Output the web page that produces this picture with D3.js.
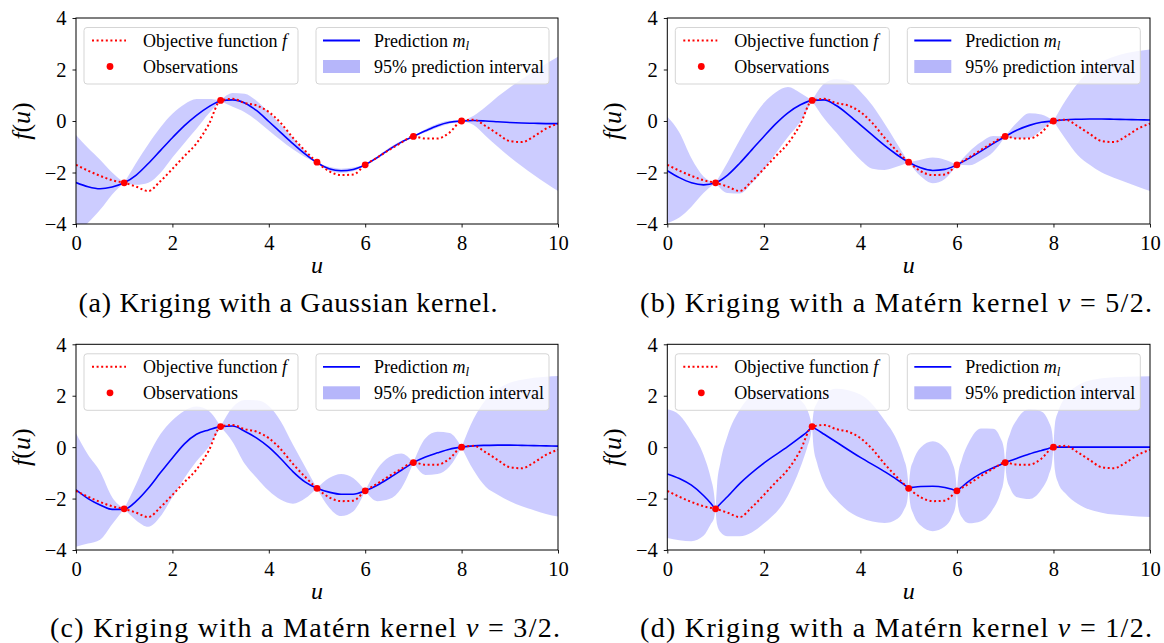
<!DOCTYPE html>
<html><head><meta charset="utf-8">
<script src="https://cdn.jsdelivr.net/npm/d3@7"></script>
<style>
body{margin:0;background:#fff}
svg{display:block}
text{font-family:"Liberation Serif","Times New Roman",serif;fill:#000}
</style>
</head><body>
<svg id="chart" width="1164" height="643"></svg>
<script>
// ---------------- data ----------------
const xTicks = [0, 2, 4, 6, 8, 10];
const yTicks = [-4, -2, 0, 2, 4];

const uGrid = [0,0.25,0.5,0.75,1,1.25,1.5,1.75,2,2.25,2.5,2.75,3,3.25,3.5,3.75,4,4.25,4.5,4.75,5,5.25,5.5,5.75,6,6.25,6.5,6.75,7,7.25,7.5,7.75,8,8.25,8.5,8.75,9,9.25,9.5,9.75,10];

const objective = [-1.70,-1.93,-2.13,-2.30,-2.40,-2.55,-2.72,-2.34,-1.86,-1.36,-0.87,-0.15,0.80,0.86,0.70,0.60,0.35,-0.08,-0.65,-1.15,-1.60,-1.95,-2.10,-2.08,-1.70,-1.42,-1.12,-0.84,-0.60,-0.68,-0.68,-0.45,0.00,0.05,-0.20,-0.50,-0.78,-0.82,-0.60,-0.30,-0.10];

const obsU = [1, 3, 5, 6, 7, 8];
const obsF = [-2.4, 0.8, -1.6, -1.7, -0.6, 0.0];

// (a) Gaussian kernel
const meanA  = [-2.39,-2.55,-2.63,-2.56,-2.40,-2.10,-1.65,-1.15,-0.65,-0.18,0.22,0.55,0.78,0.82,0.70,0.40,-0.02,-0.45,-0.88,-1.28,-1.62,-1.85,-1.93,-1.88,-1.70,-1.42,-1.10,-0.82,-0.60,-0.38,-0.18,-0.05,0.00,0.02,0.00,-0.03,-0.06,-0.08,-0.09,-0.10,-0.10];
const upperA = [-0.54,-1.05,-1.50,-2.00,-2.40,-1.62,-0.90,-0.25,0.28,0.65,0.85,0.85,0.80,1.09,1.06,0.78,0.33,-0.15,-0.66,-1.16,-1.62,-1.78,-1.85,-1.81,-1.70,-1.37,-1.04,-0.77,-0.60,-0.32,-0.11,0.01,0.00,0.20,0.55,0.95,1.30,1.62,1.93,2.22,2.50];
const lowerA = [-4.30,-3.95,-3.45,-2.85,-2.40,-2.48,-2.40,-2.02,-1.42,-0.85,-0.30,0.28,0.78,0.55,0.34,0.02,-0.37,-0.75,-1.10,-1.40,-1.62,-1.92,-2.01,-1.95,-1.70,-1.47,-1.16,-0.87,-0.60,-0.44,-0.25,-0.11,0.00,-0.16,-0.58,-1.00,-1.40,-1.76,-2.10,-2.42,-2.72];

// (b) Matern 5/2
const meanB  = [-1.93,-2.20,-2.40,-2.48,-2.40,-2.10,-1.64,-1.12,-0.60,-0.10,0.32,0.62,0.80,0.82,0.60,0.25,-0.15,-0.55,-0.95,-1.30,-1.60,-1.82,-1.92,-1.88,-1.70,-1.45,-1.17,-0.88,-0.60,-0.35,-0.17,-0.05,0.00,0.05,0.07,0.08,0.08,0.07,0.06,0.05,0.04];
const upperB = [0.17,-0.45,-1.45,-2.16,-2.40,-1.60,-0.74,0.05,0.70,1.12,1.32,1.10,0.80,1.45,1.63,1.55,1.15,0.60,-0.10,-0.85,-1.60,-1.50,-1.42,-1.50,-1.70,-1.20,-0.82,-0.58,-0.60,-0.05,0.30,0.25,0.00,0.80,1.46,1.95,2.30,2.50,2.63,2.72,2.78];
const lowerB = [-3.97,-3.75,-3.33,-2.80,-2.40,-2.80,-2.82,-2.42,-1.88,-1.25,-0.62,-0.05,0.78,0.10,-0.45,-1.00,-1.50,-1.85,-1.90,-1.78,-1.60,-2.15,-2.42,-2.25,-1.70,-1.72,-1.52,-1.20,-0.60,-0.68,-0.66,-0.35,0.00,-0.70,-1.32,-1.70,-2.00,-2.20,-2.38,-2.55,-2.72];

// (c) Matern 3/2
const meanC  = [-1.66,-2.00,-2.25,-2.42,-2.42,-2.10,-1.60,-1.00,-0.42,0.13,0.50,0.67,0.80,0.82,0.62,0.35,0.00,-0.45,-0.95,-1.35,-1.60,-1.75,-1.83,-1.83,-1.70,-1.48,-1.20,-0.90,-0.60,-0.38,-0.22,-0.08,0.00,0.05,0.07,0.08,0.08,0.07,0.06,0.05,0.04];
const upperC = [0.54,-0.30,-0.95,-1.95,-2.40,-1.42,-0.35,0.50,1.05,1.42,1.58,1.42,0.80,1.55,1.83,1.82,1.60,1.00,0.10,-0.75,-1.60,-1.20,-1.04,-1.20,-1.70,-0.85,-0.38,-0.25,-0.60,0.35,0.60,0.55,0.00,1.10,1.84,2.25,2.50,2.62,2.70,2.74,2.77];
const lowerC = [-3.87,-3.75,-3.60,-3.00,-2.40,-2.85,-3.10,-2.70,-1.95,-1.20,-0.55,0.00,0.78,0.20,-0.65,-1.20,-1.70,-2.05,-2.20,-2.00,-1.60,-2.35,-2.68,-2.50,-1.70,-2.10,-2.02,-1.60,-0.60,-1.08,-1.04,-0.75,0.00,-0.90,-1.54,-1.85,-2.10,-2.30,-2.45,-2.60,-2.70];

// (d) Matern 1/2 (denser sampling next to the observations)
const uD = [0,0.25,0.5,0.75,0.9,0.97,1, 1.03,1.1,1.25,1.5,2,2.5,2.75,2.9,2.97,3, 3.03,3.1,3.25,3.5,4,4.5,4.75,4.9,4.97,5, 5.03,5.1,5.25,5.5,5.75,5.9,5.97,6, 6.03,6.1,6.25,6.5,6.75,6.9,6.97,7, 7.03,7.1,7.25,7.5,7.75,7.9,7.97,8, 8.03,8.1,8.25,8.5,9,9.5,10];
const meanD  = [-1.04,-1.22,-1.48,-1.88,-2.18,-2.35,-2.42, -2.34,-2.20,-1.92,-1.42,-0.62,0.03,0.38,0.60,0.74,0.80, 0.76,0.68,0.50,0.20,-0.40,-0.95,-1.25,-1.45,-1.55,-1.60, -1.58,-1.56,-1.53,-1.52,-1.57,-1.64,-1.69,-1.72, -1.66,-1.55,-1.32,-1.02,-0.80,-0.68,-0.63,-0.62, -0.58,-0.53,-0.43,-0.27,-0.13,-0.05,-0.01,0.00, 0.00,0.00,0.00,0.00,0.00,0.00,0.00];
const upperD = [1.47,1.25,0.60,-0.30,-1.20,-1.85,-2.42, -1.50,-0.60,0.45,1.45,2.20,2.20,1.85,1.45,1.05,0.80, 1.36,1.72,2.05,2.27,2.05,1.05,0.30,-0.45,-1.00,-1.60, -0.98,-0.51,-0.01,0.23,-0.05,-0.59,-1.09,-1.72, -1.06,-0.50,0.20,0.73,0.72,0.37,-0.03,-0.62, 0.02,0.52,1.09,1.48,1.39,1.00,0.59,0.00, 0.90,1.40,1.95,2.40,2.68,2.74,2.76];
const lowerD = [-3.53,-3.62,-3.66,-3.45,-3.00,-2.75,-2.42, -3.00,-3.30,-3.47,-3.47,-2.97,-1.88,-0.82,0.00,0.45,0.80, 0.00,-0.60,-1.40,-2.05,-2.75,-2.95,-2.80,-2.45,-2.10,-1.60, -2.18,-2.61,-3.05,-3.27,-3.09,-2.69,-2.29,-1.72, -2.35,-2.72,-2.96,-2.88,-2.40,-1.80,-1.28,-0.62, -1.18,-1.58,-1.95,-2.02,-1.65,-1.10,-0.61,0.00, -0.90,-1.40,-1.80,-2.20,-2.55,-2.66,-2.72];

const captionLetters = ["(a)", "(b)", "(c)", "(d)"];
const captionTexts = ["Kriging with a Gaussian kernel.", "Kriging with a Matérn kernel", "Kriging with a Matérn kernel", "Kriging with a Matérn kernel"];
const captionNu = [null, "5/2", "3/2", "1/2"];
const legendLeft = ["Objective function", "Observations"];
const legendRight = ["Prediction", "95% prediction interval"];

// ---------------- layout ----------------
const layout = [
  {x0: 76,    x1: 558,  y0: 18,    y1: 224, capX: 288, capY: 312, capW: 419},
  {x0: 667.3, x1: 1150, y0: 18,    y1: 224, capX: 896, capY: 312, capW: 512},
  {x0: 76,    x1: 558,  y0: 344.3, y1: 550, capX: 305, capY: 637, capW: 510},
  {x0: 667.3, x1: 1150, y0: 344.3, y1: 550, capX: 896, capY: 637, capW: 512}
];
const panelsData = [
  {u: uGrid, m: meanA, hi: upperA, lo: lowerA, kinked: false},
  {u: uGrid, m: meanB, hi: upperB, lo: lowerB, kinked: false},
  {u: uGrid, m: meanC, hi: upperC, lo: lowerC, kinked: false},
  {u: uD,    m: meanD, hi: upperD, lo: lowerD, kinked: true}
];

const svg = d3.select("#chart");
const knots = [0, ...obsU, 10];

panelsData.forEach((P, pi) => {
  const L = layout[pi];
  const x = d3.scaleLinear().domain([0, 10]).range([L.x0, L.x1]);
  const y = d3.scaleLinear().domain([-4, 4]).range([L.y1, L.y0]);
  const g = svg.append("g");
  const clipId = "clip" + pi;
  svg.append("clipPath").attr("id", clipId).append("rect")
    .attr("x", L.x0).attr("y", L.y0).attr("width", L.x1 - L.x0).attr("height", L.y1 - L.y0);
  const plot = g.append("g").attr("clip-path", `url(#${clipId})`);

  const pts = P.u.map((u, i) => ({u, m: P.m[i], hi: P.hi[i], lo: P.lo[i]}));
  const segs = [];
  for (let k = 0; k < knots.length - 1; k++) {
    segs.push(pts.filter(d => d.u >= knots[k] - 1e-9 && d.u <= knots[k + 1] + 1e-9));
  }
  // band
  const area = d3.area().x(d => x(d.u)).y0(d => y(d.lo)).y1(d => y(d.hi)).curve(d3.curveMonotoneX);
  segs.forEach(s => {
    plot.append("path").attr("d", area(s)).attr("fill", "rgb(0,0,255)").attr("fill-opacity", 0.2).attr("stroke", "none");
  });
  // prediction
  const line = d3.line().x(d => x(d.u)).y(d => y(d.m)).curve(d3.curveMonotoneX);
  const lines = P.kinked ? segs : [pts];
  lines.forEach(s => {
    plot.append("path").attr("d", line(s)).attr("fill", "none").attr("stroke", "#0000ff").attr("stroke-width", 1.6);
  });
  // objective
  const objLine = d3.line().x((d, i) => x(uGrid[i])).y(d => y(d)).curve(d3.curveMonotoneX);
  plot.append("path").attr("d", objLine(objective)).attr("fill", "none")
    .attr("stroke", "#ff0000").attr("stroke-width", 2).attr("stroke-dasharray", "2,2.6");
  // observations
  g.selectAll(null).data(obsU).enter().append("circle")
    .attr("cx", d => x(d)).attr("cy", (d, i) => y(obsF[i])).attr("r", 3.4).attr("fill", "#ff0000");

  // axes
  const ax = g.append("g").attr("transform", `translate(0,${L.y1})`)
    .call(d3.axisBottom(x).tickValues(xTicks).tickSize(3.5).tickPadding(3.5).tickFormat(d3.format("d")));
  const ay = g.append("g").attr("transform", `translate(${L.x0},0)`)
    .call(d3.axisLeft(y).tickValues(yTicks).tickSize(3.5).tickPadding(6).tickFormat(d3.format("d")));
  [ax, ay].forEach(a => {
    a.select(".domain").remove();
    a.attr("font-family", null);
    a.selectAll(".tick line").attr("stroke", "#000").attr("stroke-width", 0.9);
    a.selectAll(".tick text").attr("font-size", 20.5).attr("fill", "#000");
  });
  ax.selectAll(".tick text").attr("dy", "0.95em");
  ay.selectAll(".tick text").attr("dy", "0.34em");
  g.append("rect").attr("x", L.x0).attr("y", L.y0).attr("width", L.x1 - L.x0).attr("height", L.y1 - L.y0)
    .attr("fill", "none").attr("stroke", "#000").attr("stroke-width", 1);

  // axis labels
  g.append("text").attr("x", (L.x0 + L.x1) / 2).attr("y", L.y1 + 49).attr("text-anchor", "middle")
    .attr("font-size", 24).attr("font-style", "italic").text("u");
  const yl = g.append("text").attr("transform", `translate(${L.x0 - 46},${(L.y0 + L.y1) / 2}) rotate(-90)`)
    .attr("text-anchor", "middle").attr("font-size", 26);
  yl.append("tspan").attr("font-style", "italic").text("f");
  yl.append("tspan").text("(");
  yl.append("tspan").attr("font-style", "italic").text("u");
  yl.append("tspan").text(")");

  // legends
  const lg = g.append("g");
  const r1 = L.y0 + 22.5, r2 = L.y0 + 48.5;
  lg.append("rect").attr("x", L.x0 + 8).attr("y", L.y0 + 9.5).attr("width", 214).attr("height", 56.5).attr("rx", 3)
    .attr("fill", "#fff").attr("fill-opacity", 0.8).attr("stroke", "#d5d5d5").attr("stroke-width", 1);
  lg.append("rect").attr("x", L.x0 + 240).attr("y", L.y0 + 9.5).attr("width", 233).attr("height", 56.5).attr("rx", 3)
    .attr("fill", "#fff").attr("fill-opacity", 0.8).attr("stroke", "#d5d5d5").attr("stroke-width", 1);
  lg.append("line").attr("x1", L.x0 + 16).attr("x2", L.x0 + 50).attr("y1", r1).attr("y2", r1)
    .attr("stroke", "#ff0000").attr("stroke-width", 2).attr("stroke-dasharray", "2,2.6");
  lg.append("circle").attr("cx", L.x0 + 34).attr("cy", r2).attr("r", 3.4).attr("fill", "#ff0000");
  const t1 = lg.append("text").attr("x", L.x0 + 67).attr("y", r1 + 6).attr("font-size", 18).attr("fill", "#262626");
  t1.append("tspan").text(legendLeft[0] + " ");
  t1.append("tspan").attr("font-style", "italic").text("f");
  lg.append("text").attr("x", L.x0 + 67).attr("y", r2 + 6).attr("font-size", 18).attr("fill", "#262626").text(legendLeft[1]);
  lg.append("line").attr("x1", L.x0 + 247).attr("x2", L.x0 + 284).attr("y1", r1).attr("y2", r1)
    .attr("stroke", "#0000ff").attr("stroke-width", 1.8);
  lg.append("rect").attr("x", L.x0 + 247).attr("y", r2 - 6.5).attr("width", 37).attr("height", 13)
    .attr("fill", "rgb(182,182,250)");
  const t3 = lg.append("text").attr("x", L.x0 + 298).attr("y", r1 + 6).attr("font-size", 18).attr("fill", "#262626");
  t3.append("tspan").text(legendRight[0] + " ");
  t3.append("tspan").attr("font-style", "italic").text("m");
  t3.append("tspan").attr("font-style", "italic").attr("font-size", 13).attr("dy", 3).text("l");
  lg.append("text").attr("x", L.x0 + 298).attr("y", r2 + 6).attr("font-size", 18).attr("fill", "#262626").text(legendRight[1]);

  // caption
  const cap = svg.append("text").attr("x", L.capX).attr("y", L.capY).attr("text-anchor", "middle")
    .attr("font-size", 28).attr("textLength", L.capW).attr("lengthAdjust", "spacing");
  cap.append("tspan").text(captionLetters[pi] + " " + captionTexts[pi] + (captionNu[pi] ? " " : ""));
  if (captionNu[pi]) {
    cap.append("tspan").attr("font-style", "italic").text("ν");
    cap.append("tspan").text(" = " + captionNu[pi] + ".");
  }
});
</script>
</body></html>
